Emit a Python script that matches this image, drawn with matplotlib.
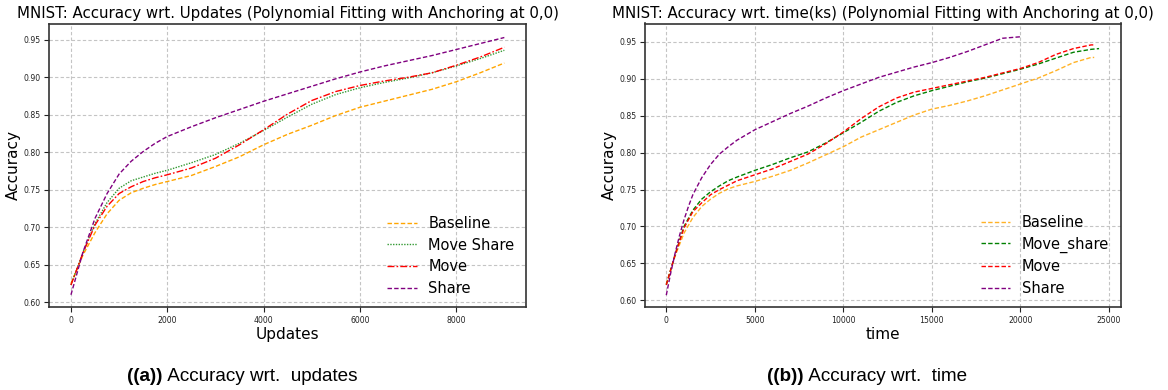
import matplotlib
matplotlib.use("Agg")
import matplotlib.pyplot as plt

# ---------------- data: left panel (accuracy vs updates) ----------------
updates = [0, 250, 500, 750, 1000, 1250, 1500, 1750, 2000, 2500, 3000, 3500,
           4000, 4500, 5000, 5500, 6000, 6500, 7000, 7500, 8000, 8500, 9000]
upd_baseline = [0.625, 0.663, 0.693, 0.718, 0.736, 0.746, 0.752, 0.757, 0.761, 0.769, 0.781, 0.794,
                0.810, 0.824, 0.836, 0.849, 0.860, 0.868, 0.876, 0.884, 0.894, 0.906, 0.919]
upd_move_share = [0.623, 0.667, 0.705, 0.733, 0.752, 0.762, 0.767, 0.772, 0.776, 0.786, 0.797, 0.812,
                  0.829, 0.847, 0.864, 0.877, 0.886, 0.893, 0.899, 0.906, 0.915, 0.925, 0.936]
upd_move = [0.623, 0.666, 0.703, 0.728, 0.745, 0.754, 0.761, 0.766, 0.770, 0.779, 0.792, 0.810,
            0.830, 0.851, 0.869, 0.881, 0.889, 0.895, 0.900, 0.906, 0.916, 0.927, 0.940]
upd_share = [0.610, 0.667, 0.712, 0.745, 0.771, 0.788, 0.801, 0.812, 0.821, 0.834, 0.846, 0.857,
             0.868, 0.878, 0.888, 0.898, 0.907, 0.915, 0.922, 0.929, 0.937, 0.945, 0.953]

# ---------------- data: right panel (accuracy vs time) ----------------
time_base = [0, 500, 1000, 1500, 2000, 2500, 3000, 3500, 4000, 5000, 6000, 7000, 8000, 9000,
             10000, 11000, 12000, 13000, 14000, 15000, 16000, 17000, 18000, 19000, 20000,
             21000, 22000, 23000, 24000, 24175]
time_baseline = [0.622, 0.660, 0.691, 0.712, 0.727, 0.737, 0.745, 0.751, 0.755, 0.761, 0.768, 0.776,
                 0.786, 0.797, 0.808, 0.821, 0.831, 0.841, 0.851, 0.859, 0.864, 0.870, 0.877, 0.885,
                 0.893, 0.901, 0.911, 0.922, 0.929, 0.929]
time_ms = [0, 500, 1000, 1500, 2000, 2500, 3000, 3500, 4000, 5000, 6000, 7000, 8000, 9000,
           10000, 11000, 12000, 13000, 14000, 15000, 16000, 17000, 18000, 19000, 20000,
           21000, 22000, 23000, 24000, 24450]
time_move_share = [0.621, 0.662, 0.700, 0.722, 0.737, 0.747, 0.755, 0.762, 0.767, 0.776, 0.784, 0.793,
                   0.801, 0.813, 0.827, 0.841, 0.856, 0.868, 0.877, 0.884, 0.890, 0.896, 0.901, 0.907,
                   0.913, 0.920, 0.928, 0.936, 0.940, 0.941]
time_mv = [0, 500, 1000, 1500, 2000, 2500, 3000, 3500, 4000, 5000, 6000, 7000, 8000, 9000,
           10000, 11000, 12000, 13000, 14000, 15000, 16000, 17000, 18000, 19000, 20000,
           21000, 22000, 23000, 24000, 24250]
time_move = [0.621, 0.662, 0.698, 0.720, 0.732, 0.743, 0.750, 0.756, 0.762, 0.770, 0.778, 0.788,
             0.798, 0.812, 0.828, 0.846, 0.862, 0.874, 0.882, 0.887, 0.892, 0.897, 0.902, 0.908,
             0.914, 0.922, 0.933, 0.941, 0.946, 0.946]
time_sh = [0, 250, 500, 750, 1000, 1250, 1500, 2000, 2500, 3000, 3500, 4000, 5000, 6000, 7000,
           8000, 9000, 10000, 11000, 12000, 13000, 14000, 15000, 16000, 17000, 18000, 19000, 20000]
time_share = [0.607, 0.637, 0.664, 0.688, 0.709, 0.727, 0.743, 0.766, 0.784, 0.798, 0.808, 0.817,
              0.831, 0.842, 0.853, 0.863, 0.874, 0.884, 0.893, 0.902, 0.909, 0.916, 0.922, 0.929,
              0.937, 0.946, 0.955, 0.957]

left_title = "MNIST: Accuracy wrt. Updates (Polynomial Fitting with Anchoring at 0,0)"
right_title = "MNIST: Accuracy wrt. time(ks) (Polynomial Fitting with Anchoring at 0,0)"
left_ticks_x = [0, 2000, 4000, 6000, 8000]
right_ticks_x = [0, 5000, 10000, 15000, 20000, 25000]
y_ticks = [0.60, 0.65, 0.70, 0.75, 0.80, 0.85, 0.90, 0.95]

W, H = 1168, 390
fig = plt.figure(figsize=(W / 100, H / 100), dpi=100)

axL = fig.add_axes([49.3 / W, 1 - 307.3 / H, (526 - 49.3) / W, (307.3 - 23.5) / H])
axR = fig.add_axes([645 / W, 1 - 307.3 / H, (1120.7 - 645) / W, (307.3 - 23.5) / H])

dash = (0, (3.2, 1.6))
lw = 1.0
axL.plot(updates, upd_baseline, color="orange", linestyle=dash, lw=lw, label="Baseline")
axL.plot(updates, upd_move_share, color="green", linestyle=(0, (1, 1)), lw=lw, alpha=0.8, label="Move Share")
axL.plot(updates, upd_move, color="red", linestyle=(0, (5, 1.5, 1.2, 1.5)), lw=lw, label="Move")
axL.plot(updates, upd_share, color="purple", linestyle=dash, lw=lw, label="Share")

axR.plot(time_base, time_baseline, color="orange", linestyle=dash, lw=lw, alpha=0.85, label="Baseline")
axR.plot(time_ms, time_move_share, color="green", linestyle=dash, lw=lw, label="Move_share")
axR.plot(time_mv, time_move, color="red", linestyle=dash, lw=lw, label="Move")
axR.plot(time_sh, time_share, color="purple", linestyle=dash, lw=lw, label="Share")

for ax, title, xlabel, xt, xlim, ylim in [
        (axL, left_title, "Updates", left_ticks_x, (-450, 9450), (0.5933, 0.9717)),
        (axR, right_title, "time", right_ticks_x, (-1203, 25672), (0.5905, 0.975))]:
    ax.set_xlim(*xlim)
    ax.set_ylim(*ylim)
    ax.set_xticks(xt)
    ax.set_yticks(y_ticks)
    ax.set_yticklabels([f"{v:.2f}" for v in y_ticks])
    ax.tick_params(labelsize=5.6, length=3.5, width=0.8, colors="#222222", pad=2.5)
    ax.grid(True, color="#c4c4c4", linestyle=(0, (3, 2)), lw=0.8)
    ax.set_axisbelow(True)
    for s in ax.spines.values():
        s.set_linewidth(1.2)
        s.set_color("#333333")
    ax.set_title(title, fontsize=10.8, pad=4)
    ax.set_xlabel(xlabel, fontsize=11, labelpad=2)
    ax.set_ylabel("Accuracy", fontsize=11, labelpad=2)
    ax.legend(loc="lower right", frameon=False, fontsize=10.5, labelspacing=0.45,
              handlelength=2.0, handletextpad=0.8, borderaxespad=0.4)

# captions: bold "((x))" followed by regular text
cap_font = "Liberation Sans"
cap_size = 13.6
fig.canvas.draw()
renderer = fig.canvas.get_renderer()
for x0, tag, rest in [(127.3, "((a))", " Accuracy wrt.  updates"),
                      (767.3, "((b))", " Accuracy wrt.  time")]:
    t1 = fig.text(x0 / W, (H - 381) / H, tag, fontsize=cap_size, family=cap_font,
                  fontweight="bold", ha="left", va="baseline")
    bb = t1.get_window_extent(renderer=renderer)
    fig.text(bb.x1 / W, (H - 381) / H, rest, fontsize=cap_size, family=cap_font,
             ha="left", va="baseline")

fig.savefig("out.png", dpi=100)
